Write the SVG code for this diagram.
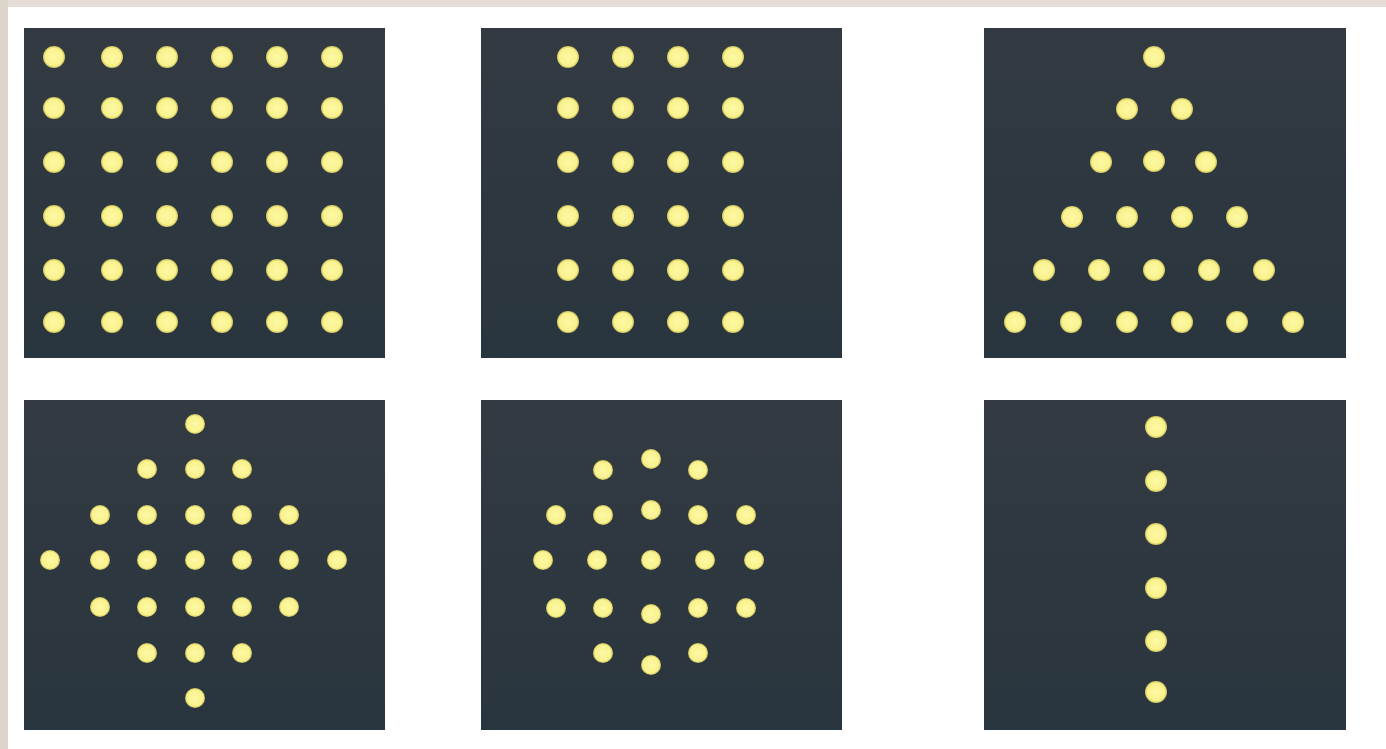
<svg xmlns="http://www.w3.org/2000/svg" width="1386" height="749" viewBox="0 0 1386 749">
<defs>
<linearGradient id="pg" x1="0" y1="0" x2="0" y2="1">
<stop offset="0" stop-color="#333a42"/>
<stop offset="1" stop-color="#29353e"/>
</linearGradient>
<radialGradient id="dg" cx="0.5" cy="0.5" r="0.5">
<stop offset="0" stop-color="#fdf8a4"/>
<stop offset="0.8" stop-color="#f9f28e"/>
<stop offset="1" stop-color="#c9bf5a"/>
</radialGradient>
<style>
.panel{fill:url(#pg)}
.d{fill:url(#dg)}
</style>
</defs>
<rect x="0" y="0" width="1386" height="749" fill="#ffffff"/>
<rect x="0" y="0" width="1386" height="7" fill="#e4ddd6"/>
<rect x="0" y="0" width="8" height="749" fill="#ddd5cc"/>
<g id="panel-square">
<rect class="panel" x="24" y="28" width="361" height="330"/>
<g class="d">
<circle cx="54" cy="57" r="11"/><circle cx="112" cy="57" r="11"/><circle cx="167" cy="57" r="11"/><circle cx="222" cy="57" r="11"/><circle cx="277" cy="57" r="11"/><circle cx="332" cy="57" r="11"/>
<circle cx="54" cy="108" r="11"/><circle cx="112" cy="108" r="11"/><circle cx="167" cy="108" r="11"/><circle cx="222" cy="108" r="11"/><circle cx="277" cy="108" r="11"/><circle cx="332" cy="108" r="11"/>
<circle cx="54" cy="162" r="11"/><circle cx="112" cy="162" r="11"/><circle cx="167" cy="162" r="11"/><circle cx="222" cy="162" r="11"/><circle cx="277" cy="162" r="11"/><circle cx="332" cy="162" r="11"/>
<circle cx="54" cy="216" r="11"/><circle cx="112" cy="216" r="11"/><circle cx="167" cy="216" r="11"/><circle cx="222" cy="216" r="11"/><circle cx="277" cy="216" r="11"/><circle cx="332" cy="216" r="11"/>
<circle cx="54" cy="270" r="11"/><circle cx="112" cy="270" r="11"/><circle cx="167" cy="270" r="11"/><circle cx="222" cy="270" r="11"/><circle cx="277" cy="270" r="11"/><circle cx="332" cy="270" r="11"/>
<circle cx="54" cy="322" r="11"/><circle cx="112" cy="322" r="11"/><circle cx="167" cy="322" r="11"/><circle cx="222" cy="322" r="11"/><circle cx="277" cy="322" r="11"/><circle cx="332" cy="322" r="11"/>
</g>
</g>
<g id="panel-rect">
<rect class="panel" x="481" y="28" width="361" height="330"/>
<g class="d">
<circle cx="568" cy="57" r="11"/><circle cx="623" cy="57" r="11"/><circle cx="678" cy="57" r="11"/><circle cx="733" cy="57" r="11"/>
<circle cx="568" cy="108" r="11"/><circle cx="623" cy="108" r="11"/><circle cx="678" cy="108" r="11"/><circle cx="733" cy="108" r="11"/>
<circle cx="568" cy="162" r="11"/><circle cx="623" cy="162" r="11"/><circle cx="678" cy="162" r="11"/><circle cx="733" cy="162" r="11"/>
<circle cx="568" cy="216" r="11"/><circle cx="623" cy="216" r="11"/><circle cx="678" cy="216" r="11"/><circle cx="733" cy="216" r="11"/>
<circle cx="568" cy="270" r="11"/><circle cx="623" cy="270" r="11"/><circle cx="678" cy="270" r="11"/><circle cx="733" cy="270" r="11"/>
<circle cx="568" cy="322" r="11"/><circle cx="623" cy="322" r="11"/><circle cx="678" cy="322" r="11"/><circle cx="733" cy="322" r="11"/>
</g>
</g>
<g id="panel-triangle">
<rect class="panel" x="984" y="28" width="362" height="330"/>
<g class="d">
<circle cx="1154" cy="57" r="11"/>
<circle cx="1127" cy="109" r="11"/><circle cx="1182" cy="109" r="11"/>
<circle cx="1101" cy="162" r="11"/><circle cx="1154" cy="161" r="11"/><circle cx="1206" cy="162" r="11"/>
<circle cx="1072" cy="217" r="11"/><circle cx="1127" cy="217" r="11"/><circle cx="1182" cy="217" r="11"/><circle cx="1237" cy="217" r="11"/>
<circle cx="1044" cy="270" r="11"/><circle cx="1099" cy="270" r="11"/><circle cx="1154" cy="270" r="11"/><circle cx="1209" cy="270" r="11"/><circle cx="1264" cy="270" r="11"/>
<circle cx="1015" cy="322" r="11"/><circle cx="1071" cy="322" r="11"/><circle cx="1127" cy="322" r="11"/><circle cx="1182" cy="322" r="11"/><circle cx="1237" cy="322" r="11"/><circle cx="1293" cy="322" r="11"/>
</g>
</g>
<g id="panel-diamond">
<rect class="panel" x="24" y="400" width="361" height="330"/>
<g class="d">
<circle cx="195" cy="424" r="10"/>
<circle cx="147" cy="469" r="10"/><circle cx="195" cy="469" r="10"/><circle cx="242" cy="469" r="10"/>
<circle cx="100" cy="515" r="10"/><circle cx="147" cy="515" r="10"/><circle cx="195" cy="515" r="10"/><circle cx="242" cy="515" r="10"/><circle cx="289" cy="515" r="10"/>
<circle cx="50" cy="560" r="10"/><circle cx="100" cy="560" r="10"/><circle cx="147" cy="560" r="10"/><circle cx="195" cy="560" r="10"/><circle cx="242" cy="560" r="10"/><circle cx="289" cy="560" r="10"/><circle cx="337" cy="560" r="10"/>
<circle cx="100" cy="607" r="10"/><circle cx="147" cy="607" r="10"/><circle cx="195" cy="607" r="10"/><circle cx="242" cy="607" r="10"/><circle cx="289" cy="607" r="10"/>
<circle cx="147" cy="653" r="10"/><circle cx="195" cy="653" r="10"/><circle cx="242" cy="653" r="10"/>
<circle cx="195" cy="698" r="10"/>
</g>
</g>
<g id="panel-circle">
<rect class="panel" x="481" y="400" width="361" height="330"/>
<g class="d">
<circle cx="603" cy="470" r="10"/><circle cx="651" cy="459" r="10"/><circle cx="698" cy="470" r="10"/>
<circle cx="556" cy="515" r="10"/><circle cx="603" cy="515" r="10"/><circle cx="651" cy="510" r="10"/><circle cx="698" cy="515" r="10"/><circle cx="746" cy="515" r="10"/>
<circle cx="543" cy="560" r="10"/><circle cx="597" cy="560" r="10"/><circle cx="651" cy="560" r="10"/><circle cx="705" cy="560" r="10"/><circle cx="754" cy="560" r="10"/>
<circle cx="556" cy="608" r="10"/><circle cx="603" cy="608" r="10"/><circle cx="651" cy="614" r="10"/><circle cx="698" cy="608" r="10"/><circle cx="746" cy="608" r="10"/>
<circle cx="603" cy="653" r="10"/><circle cx="651" cy="665" r="10"/><circle cx="698" cy="653" r="10"/>
</g>
</g>
<g id="panel-line">
<rect class="panel" x="984" y="400" width="362" height="330"/>
<g class="d">
<circle cx="1156" cy="427" r="11"/><circle cx="1156" cy="481" r="11"/><circle cx="1156" cy="534" r="11"/><circle cx="1156" cy="588" r="11"/><circle cx="1156" cy="641" r="11"/><circle cx="1156" cy="692" r="11"/>
</g>
</g>
<g id="connectors"/>
</svg>
